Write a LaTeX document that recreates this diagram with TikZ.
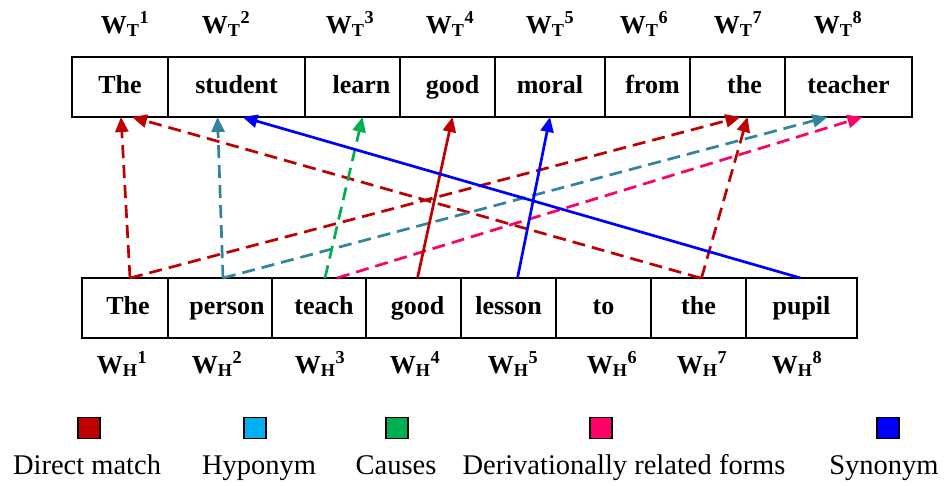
\documentclass[tikz,border=0pt]{standalone}
\usepackage{fontspec}
\setmainfont{Liberation Serif}
\usepackage{xcolor}
\usetikzlibrary{positioning, arrows.meta, calc}
\definecolor{wdred}{HTML}{C00000}
\definecolor{wdteal}{HTML}{31849B}
\definecolor{wdcyan}{HTML}{00B0F0}
\definecolor{wdgreen}{HTML}{00B050}
\definecolor{wdpink}{HTML}{FF0066}
\definecolor{wdblue}{HTML}{0000FF}

\begin{document}
\begin{tikzpicture}[
  x=1pt, y=-1pt,
  cell/.style={draw=black, line width=2pt, minimum height=60pt, inner sep=0pt, outer sep=0pt, text height=18pt, text depth=6pt, font=\fontsize{26}{30}\selectfont\bfseries},
  wlbl/.style={inner sep=0pt, text height=20pt, text depth=4pt, font=\fontsize{26}{30}\selectfont\bfseries},
  key/.style={draw=black, line width=1.6pt, minimum width=22pt, minimum height=21pt, inner sep=0pt},
  keytxt/.style={inner sep=0pt, text height=19pt, text depth=7pt, font=\fontsize{28.5}{32}\selectfont},
  link/.style={line width=2.7pt, -{Triangle[length=15pt, width=13pt]}},
  dlink/.style={link, dash pattern=on 13pt off 7pt}
]
  \useasboundingbox (0,0) rectangle (952,485);

  % target sentence
  \node[cell, minimum width=96pt] (t1) at (120,87) {The};
  \node[cell, minimum width=137pt] (t2) at (236.5,87) {student};
  \node[cell, minimum width=95pt] (t3) at (352.5,87) {\hspace{18pt}learn};
  \node[cell, minimum width=95pt] (t4) at (447.5,87) {\hspace{10pt}good};
  \node[cell, minimum width=110pt] (t5) at (550,87) {moral};
  \node[cell, minimum width=85pt] (t6) at (647.5,87) {\hspace{10pt}from};
  \node[cell, minimum width=95pt] (t7) at (737.5,87) {\hspace{14pt}the};
  \node[cell, minimum width=127pt] (t8) at (848.5,87) {teacher};

  \node[wlbl] (wt1) at (125,25) {W\textsubscript{T}\textsuperscript{1}};
  \node[wlbl] (wt2) at (226,25) {W\textsubscript{T}\textsuperscript{2}};
  \node[wlbl] (wt3) at (350,25) {W\textsubscript{T}\textsuperscript{3}};
  \node[wlbl] (wt4) at (450,25) {W\textsubscript{T}\textsuperscript{4}};
  \node[wlbl] (wt5) at (550,25) {W\textsubscript{T}\textsuperscript{5}};
  \node[wlbl] (wt6) at (644,25) {W\textsubscript{T}\textsuperscript{6}};
  \node[wlbl] (wt7) at (738,25) {W\textsubscript{T}\textsuperscript{7}};
  \node[wlbl] (wt8) at (838,25) {W\textsubscript{T}\textsuperscript{8}};

  % hypothesis sentence
  \node[cell, minimum width=86pt] (h1) at (125,308) {\hspace{6pt}The};
  \node[cell, minimum width=104pt] (h2) at (220,308) {\hspace{14pt}person};
  \node[cell, minimum width=94pt] (h3) at (319,308) {\hspace{10pt}teach};
  \node[cell, minimum width=95pt] (h4) at (413.5,308) {\hspace{8pt}good};
  \node[cell, minimum width=95pt] (h5) at (508.5,308) {lesson};
  \node[cell, minimum width=95pt] (h6) at (603.5,308) {to};
  \node[cell, minimum width=95pt] (h7) at (698.5,308) {the};
  \node[cell, minimum width=111pt] (h8) at (801.5,308) {pupil};

  \node[wlbl] (wh1) at (122,365) {W\textsubscript{H}\textsuperscript{1}};
  \node[wlbl] (wh2) at (217,365) {W\textsubscript{H}\textsuperscript{2}};
  \node[wlbl] (wh3) at (320,365) {W\textsubscript{H}\textsuperscript{3}};
  \node[wlbl] (wh4) at (415,365) {W\textsubscript{H}\textsuperscript{4}};
  \node[wlbl] (wh5) at (513,365) {W\textsubscript{H}\textsuperscript{5}};
  \node[wlbl] (wh6) at (612,365) {W\textsubscript{H}\textsuperscript{6}};
  \node[wlbl] (wh7) at (702,365) {W\textsubscript{H}\textsuperscript{7}};
  \node[wlbl] (wh8) at (797,365) {W\textsubscript{H}\textsuperscript{8}};

  % alignments
  \draw[dlink, wdred] ([xshift=5pt]h1.north) -- ([xshift=1pt]t1.south);
  \draw[dlink, wdred] ([xshift=2pt]h7.north) -- ([xshift=12pt]t1.south);
  \draw[dlink, wdred] ([xshift=5pt]h1.north) -- ([xshift=3pt]t7.south);
  \draw[dlink, wdred] ([xshift=3pt]h7.north) -- ([xshift=10pt]t7.south);
  \draw[dlink, wdteal] ([xshift=3pt]h2.north) -- ([xshift=-19pt]t2.south);
  \draw[dlink, wdteal] ([xshift=3pt]h2.north) -- ([xshift=-21pt]t8.south);
  \draw[dlink, wdgreen] ([xshift=6pt]h3.north) -- ([xshift=10pt]t3.south);
  \draw[dlink, wdpink] ([xshift=18pt]h3.north) -- ([xshift=14pt]t8.south);
  \draw[link, wdred] ([xshift=4pt]h4.north) -- ([xshift=5pt]t4.south);
  \draw[link, wdblue] ([xshift=9pt]h5.north) -- (t5.south);
  \draw[link, wdblue] ([xshift=-1pt]h8.north) -- ([xshift=6pt]t2.south);

  % legend
  \node[key, fill=wdred] (kdirect) at (89,428) {};
  \node[key, fill=wdcyan] (khypo) at (255,428) {};
  \node[key, fill=wdgreen] (kcause) at (397,428) {};
  \node[key, fill=wdpink] (kderiv) at (601,428) {};
  \node[key, fill=wdblue] (ksyn) at (888,428) {};
  \node[keytxt] (ldirect) at (87,468) {Direct match};
  \node[keytxt] (lhypo) at (259,468) {Hyponym};
  \node[keytxt] (lcause) at (396,468) {Causes};
  \node[keytxt] (lderiv) at (624,468) {Derivationally related forms};
  \node[keytxt] (lsyn) at (884,468) {Synonym};
\end{tikzpicture}
\end{document}
